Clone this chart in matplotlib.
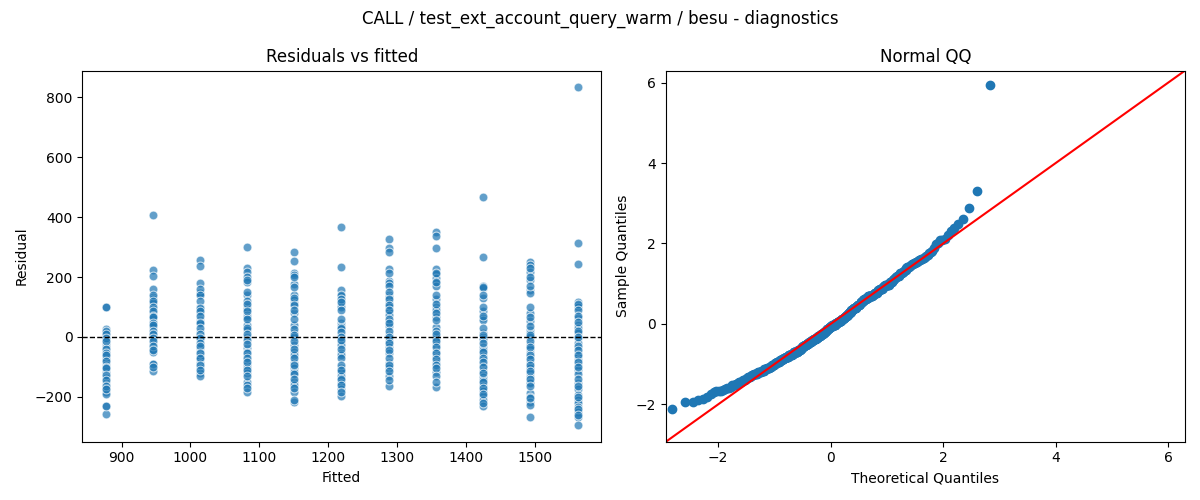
import numpy as np
import matplotlib
matplotlib.use("Agg")
import matplotlib.pyplot as plt
from statistics import NormalDist

title = "CALL / test_ext_account_query_warm / besu - diagnostics"

# fitted level of each group and the residuals
# (second row of each list = points hidden in the dense, overlapping stacks)
fitted = [877, 945, 1014, 1082, 1150, 1219, 1288, 1356, 1425, 1493, 1562]
res_877 = [99, 28, 17, 1, -8, -23, -34, -49, -68, -74, -94, -112, -121, -132, -137,
           -154, -160, -171, -182, -190, -230, -258,
           99, 20, 10, -5, -15, -40, -55, -60, -80, -100, -105, -128, -145, -165, -175, -230]
res_945 = [407, 223, 203, 160, 134, 126, 112, 92, 81, 59, 51, 34, 7, 1, -23, -41,
           -49, -90, -114,
           140, 120, 100, 85, 70, 65, 45, 40, 20, 10, -5, -15, -30, -45, -90, -100]
res_1014 = [257, 237, 179, 148, 146, 101, 92, 81, 57, 51, 18, 1, -8, -38, -49, -63,
            -74, -88, -104, -119, -130,
            160, 140, 120, 95, 85, 70, 45, 30, 10, -5, -20, -30, -55, -70, -95, -110]
res_1082 = [299, 229, 218, 201, 184, 140, 101, 92, 73, 68, 40, 23, 1, -38, -49, -63,
            -76, -93, -104, -121, -149, -160, -182,
            190, 150, 120, 110, 85, 60, 30, 10, -10, -25, -55, -70, -85, -110, -130, -170]
res_1150 = [282, 253, 212, 207, 176, 140, 123, 112, 79, 40, 12, 1, -27, -49, -60,
            -88, -104, -116, -149, -160, -182, -218,
            200, 165, 130, 105, 90, 60, 25, 5, -15, -40, -70, -95, -125, -140, -170, -210]
res_1219 = [366, 233, 155, 135, 123, 107, 101, 48, 37, 26, 7, -16, -27, -54, -60,
            -104, -116, -130, -143, -152, -174, -197,
            140, 125, 115, 90, 60, 30, 15, 0, -10, -40, -70, -95, -110, -140, -160, -185]
res_1288 = [326, 296, 284, 226, 188, 179, 140, 134, 112, 99, 84, 73, 54, 37, 7, -12,
            -32, -54, -88, -104, -130, -163,
            215, 170, 150, 125, 105, 90, 60, 45, 20, 0, -20, -45, -70, -95, -115, -145]
res_1356 = [349, 337, 296, 226, 210, 196, 179, 170, 126, 101, 90, 68, 34, 1, -8,
            -27, -49, -66, -86, -118, -166,
            215, 185, 140, 110, 80, 55, 20, 10, -15, -35, -55, -75, -95, -105, -130, -150]
res_1425 = [466, 266, 170, 162, 129, 88, 62, 57, 14, 1, -8, -32, -43, -63, -77, -93,
            -112, -132, -143, -163, -179, -197, -210, -230,
            165, 140, 100, 70, 30, 5, -20, -50, -70, -85, -100, -120, -150, -170, -190, -220]
res_1493 = [251, 240, 218, 190, 157, 148, 81, 54, 23, 12, 1, -27, -41, -54, -68, -86,
            -104, -121, -132, -149, -154, -188, -199, -216, -227, -268,
            230, 200, 170, 100, 65, 35, 5, -15, -35, -60, -75, -95, -115, -140, -165, -205]
res_1562 = [832, 312, 243, 118, 107, 99, 62, 40, 29, 12, -4, -21, -38, -52, -68, -77,
            -93, -110, -123, -154, -174, -193, -210, -221, -234, -249, -266, -293,
            110, 90, 70, 50, 20, 0, -30, -45, -60, -85, -100, -140, -165, -200, -240, -260]

groups = [res_877, res_945, res_1014, res_1082, res_1150, res_1219,
          res_1288, res_1356, res_1425, res_1493, res_1562]

x = np.concatenate([[f] * len(g) for f, g in zip(fitted, groups)])
resid = np.concatenate(groups).astype(float)

fig, (ax1, ax2) = plt.subplots(1, 2, figsize=(12, 5), dpi=100)

# residuals vs fitted
ax1.scatter(x, resid, s=40, color="#1f77b4", alpha=0.7, edgecolor="white", linewidth=0.75)
ax1.axhline(0, color="black", linestyle="--", linewidth=1)
ax1.set_title("Residuals vs fitted")
ax1.set_xlabel("Fitted")
ax1.set_ylabel("Residual")

# normal QQ of standardised residuals
n = len(resid)
z = (np.sort(resid) - resid.mean()) / resid.std()
nd = NormalDist()
theo = np.array([nd.inv_cdf(i / (n + 1)) for i in range(1, n + 1)])
ax2.plot(theo, z, "o", color="#1f77b4", markersize=6)
lo, hi = -2.93, 6.3
ax2.plot([lo, hi], [lo, hi], color="red")
ax2.set_xlim(lo, hi)
ax2.set_ylim(lo, hi)
ax2.set_title("Normal QQ")
ax2.set_xlabel("Theoretical Quantiles")
ax2.set_ylabel("Sample Quantiles")

fig.suptitle(title)
fig.tight_layout()
fig.savefig("out.png")
